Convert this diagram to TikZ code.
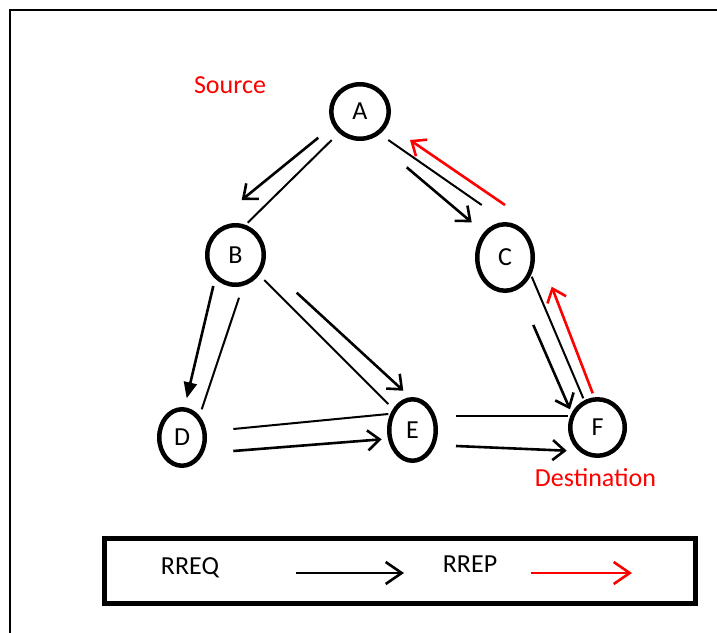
\documentclass[tikz,border=0pt]{standalone}
\usepackage{fontspec}
\setmainfont{Carlito}
\usetikzlibrary{shapes.geometric,arrows.meta}
\begin{document}
\begin{tikzpicture}[x=1pt,y=-1pt,
  every node/.style={font=\fontsize{26}{30}\selectfont},
  station/.style={ellipse, draw, line width=4.5pt, inner sep=0pt},
  link/.style={line width=2pt},
  req/.style={line width=2.6pt, -{Straight Barb[length=12pt,width=20pt]}},
  reqfill/.style={line width=2.6pt, -{Triangle[length=16pt,width=13pt]}},
  rep/.style={req, red},
  tag/.style={text=red}
]
\useasboundingbox (0,0) rectangle (717,632);

% page frame
\coordinate (fbl) at (10,640);
\coordinate (ftl) at (10,10);
\coordinate (ftr) at (725,10);
\draw[line width=1.5pt] (fbl) -- (ftl) -- (ftr);

% stations
\node[station, minimum width=57.5, minimum height=54.5] (A) at (360,111.5) {A};
\node[station, minimum width=56.5, minimum height=59.5] (B) at (235.5,255) {\raisebox{-6pt}{B}};
\node[station, minimum width=55.5, minimum height=66.5] (C) at (505,257.5) {\raisebox{-4pt}{C}};
\node[station, minimum width=45.5, minimum height=56.5] (D) at (182,437.5) {D};
\node[station, minimum width=46.5, minimum height=61.5] (E) at (412.5,430) {\raisebox{-2pt}{E}};
\node[station, minimum width=54.5, minimum height=56.5] (F) at (597.5,427.5) {F};

\node[tag] (src) at (230,85) {Source};
\node[tag] (dst) at (595.5,478) {Destination};

% link end points
\coordinate (ab1) at (331.7,140);   \coordinate (ab2) at (247.7,222.7);
\coordinate (ab3) at (318.3,137.7); \coordinate (ab4) at (241.7,200);
\coordinate (ac1) at (388.3,140);   \coordinate (ac2) at (481.7,205);
\coordinate (ac3) at (406.7,167.3); \coordinate (ac4) at (471.7,222.3);
\coordinate (ca1) at (505,205);     \coordinate (ca2) at (410,140);
\coordinate (bd1) at (213.3,286);   \coordinate (bd2) at (186.7,398.3);
\coordinate (bd3) at (239,297.7);   \coordinate (bd4) at (201.7,409.3);
\coordinate (be1) at (264.3,280);   \coordinate (be2) at (388.3,404);
\coordinate (be3) at (296.7,292.7); \coordinate (be4) at (403.3,390.7);
\coordinate (de1) at (233.3,429);   \coordinate (de2) at (388.3,414);
\coordinate (de3) at (233.3,451);   \coordinate (de4) at (381.7,439.3);
\coordinate (cf1) at (531.7,276.7); \coordinate (cf2) at (583.3,398.3);
\coordinate (cf3) at (533.3,325);   \coordinate (cf4) at (570,409.3);
\coordinate (fc1) at (592.7,393.3); \coordinate (fc2) at (551.7,286.7);
\coordinate (ef1) at (456,416);     \coordinate (ef2) at (568.3,416);
\coordinate (ef3) at (456,446);     \coordinate (ef4) at (566.7,450.7);

% plain links
\draw[link] (ab1) -- (ab2);
\draw[link] (ac1) -- (ac2);
\draw[link] (bd3) -- (bd4);
\draw[link] (be1) -- (be2);
\draw[link] (de1) -- (de2);
\draw[link] (cf1) -- (cf2);
\draw[link] (ef1) -- (ef2);

% route requests
\draw[req] (ab3) -- (ab4);
\draw[req] (ac3) -- (ac4);
\draw[reqfill] (bd1) -- (bd2);
\draw[req] (be3) -- (be4);
\draw[req] (de3) -- (de4);
\draw[req] (cf3) -- (cf4);
\draw[req] (ef3) -- (ef4);

% route replies
\draw[rep] (ca1) -- (ca2);
\draw[rep] (fc1) -- (fc2);

% legend
\node[draw, line width=5pt, minimum width=591, minimum height=65, inner sep=0pt] (legend) at (400,571) {};
\node (rreq) at (190,568) {RREQ};
\node (rrep) at (470,564) {RREP};
\coordinate (lq1) at (296,573); \coordinate (lq2) at (404,573);
\coordinate (lp1) at (531,573); \coordinate (lp2) at (632,573);
\draw[line width=2.6pt, -{Straight Barb[length=16pt,width=22pt]}] (lq1) -- (lq2);
\draw[line width=2.6pt, red, -{Straight Barb[length=16pt,width=22pt]}] (lp1) -- (lp2);
\end{tikzpicture}
\end{document}
